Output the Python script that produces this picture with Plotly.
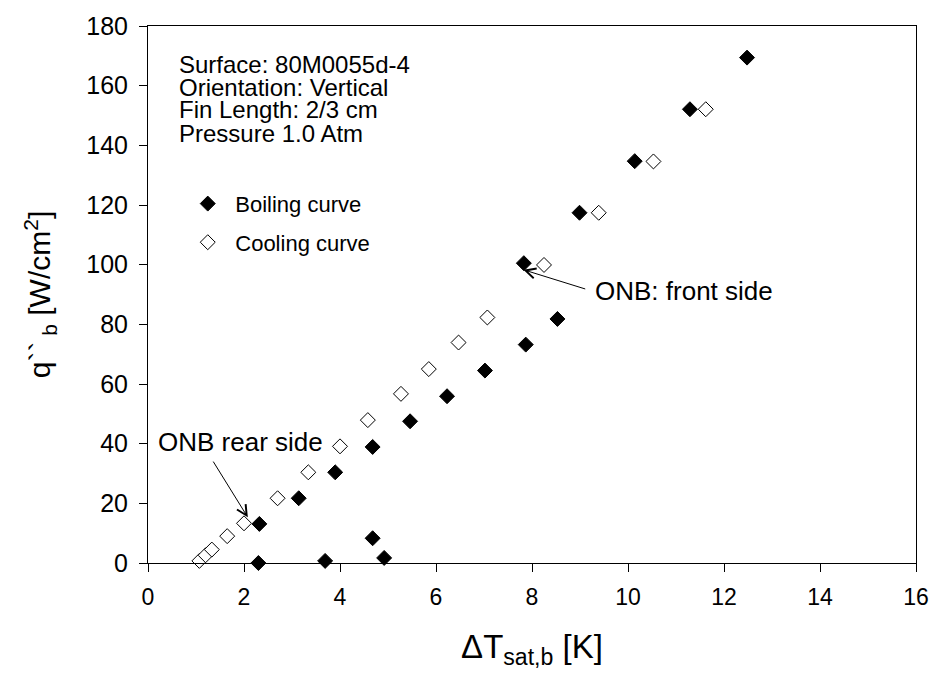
import plotly.graph_objects as go

# Boiling curve (filled diamonds)
boil_dT = [2.30, 3.69, 4.92, 4.68, 2.32, 3.14, 3.90, 4.68, 5.46, 6.23, 7.02, 7.87, 8.53, 7.83, 8.99, 10.14, 11.29, 12.48]
boil_q = [0.0, 0.7, 1.7, 8.3, 13.1, 21.7, 30.4, 38.9, 47.5, 55.9, 64.5, 73.2, 81.8, 100.5, 117.4, 134.7, 152.1, 169.4]

# Cooling curve (open diamonds)
cool_dT = [1.07, 1.20, 1.33, 1.65, 2.00, 2.70, 3.34, 4.00, 4.58, 5.27, 5.85, 6.47, 7.07, 8.25, 9.39, 10.53, 11.62]
cool_q = [0.7, 2.6, 4.5, 9.0, 13.3, 21.7, 30.4, 39.1, 47.9, 56.7, 65.0, 73.9, 82.3, 99.9, 117.4, 134.6, 152.1]

info_lines = ["Surface: 80M0055d-4", "Orientation: Vertical", "Fin Length: 2/3 cm", "Pressure 1.0 Atm"]

FONT = "Arial, Liberation Sans, sans-serif"

fig = go.Figure()
fig.add_trace(go.Scatter(
    x=boil_dT, y=boil_q, mode="markers", name="Boiling curve", legendgroup="b",
    marker=dict(symbol="diamond", size=11.5, color="black", line=dict(color="black", width=1)),
    cliponaxis=False))
fig.add_trace(go.Scatter(
    x=cool_dT, y=cool_q, mode="markers", name="Cooling curve", legendgroup="c",
    marker=dict(symbol="diamond", size=11.5, color="white", line=dict(color="black", width=1)),
    cliponaxis=False))

annotations = []
info_y = [0.929, 0.886, 0.844, 0.800]
for txt, yy in zip(info_lines, info_y):
    annotations.append(dict(text=txt, xref="paper", yref="paper", x=0.038, y=yy,
                            xanchor="left", yanchor="middle", showarrow=False,
                            font=dict(family=FONT, size=24, color="black")))

# ONB rear side
annotations.append(dict(text="ONB rear side", x=0.17, y=40.5, xref="x", yref="y",
                        xanchor="left", yanchor="middle", showarrow=False,
                        font=dict(family=FONT, size=26, color="black")))
annotations.append(dict(text="", x=2.08, y=15.3, ax=1.34, ay=34.5, axref="x", ayref="y",
                        xref="x", yref="y", showarrow=True, arrowhead=5, arrowsize=2,
                        arrowwidth=1, arrowcolor="black"))
# ONB front side
annotations.append(dict(text="ONB: front side", x=9.27, y=91.2, xref="x", yref="y",
                        xanchor="left", yanchor="middle", showarrow=False,
                        font=dict(family=FONT, size=26, color="black")))
annotations.append(dict(text="", x=7.82, y=98.3, ax=9.14, ay=91.7, axref="x", ayref="y",
                        xref="x", yref="y", showarrow=True, arrowhead=5, arrowsize=2,
                        arrowwidth=1, arrowcolor="black"))

fig.update_layout(
    width=941, height=674,
    margin=dict(l=148, r=15, t=17, b=111),
    paper_bgcolor="white", plot_bgcolor="white",
    font=dict(family=FONT, color="black"),
    showlegend=True,
    legend=dict(x=0.042, y=0.708, xanchor="left", yanchor="top",
                font=dict(family=FONT, size=22, color="black"),
                bgcolor="rgba(0,0,0,0)", tracegroupgap=7, traceorder="grouped",
                itemwidth=45),
    annotations=annotations,
)
fig.update_xaxes(
    range=[0, 16], dtick=2, tick0=0, showgrid=False, zeroline=False,
    showline=True, linecolor="black", linewidth=1, mirror=True,
    ticks="outside", ticklen=8, tickcolor="black", ticklabelstandoff=5,
    tickfont=dict(family=FONT, size=23),
    title=dict(text="ΔT<sub>sat,b</sub> [K]", font=dict(family=FONT, size=33), standoff=26),
)
fig.update_yaxes(
    range=[0, 180], dtick=20, tick0=0, showgrid=False, zeroline=False,
    showline=True, linecolor="black", linewidth=1, mirror=True,
    ticks="outside", ticklen=8, tickcolor="black", ticklabelstandoff=6,
    tickfont=dict(family=FONT, size=25),
    title=dict(text="q``<sub> b</sub> [W/cm<sup>2</sup>]", font=dict(family=FONT, size=30), standoff=26),
)

fig.write_html("out.html")
